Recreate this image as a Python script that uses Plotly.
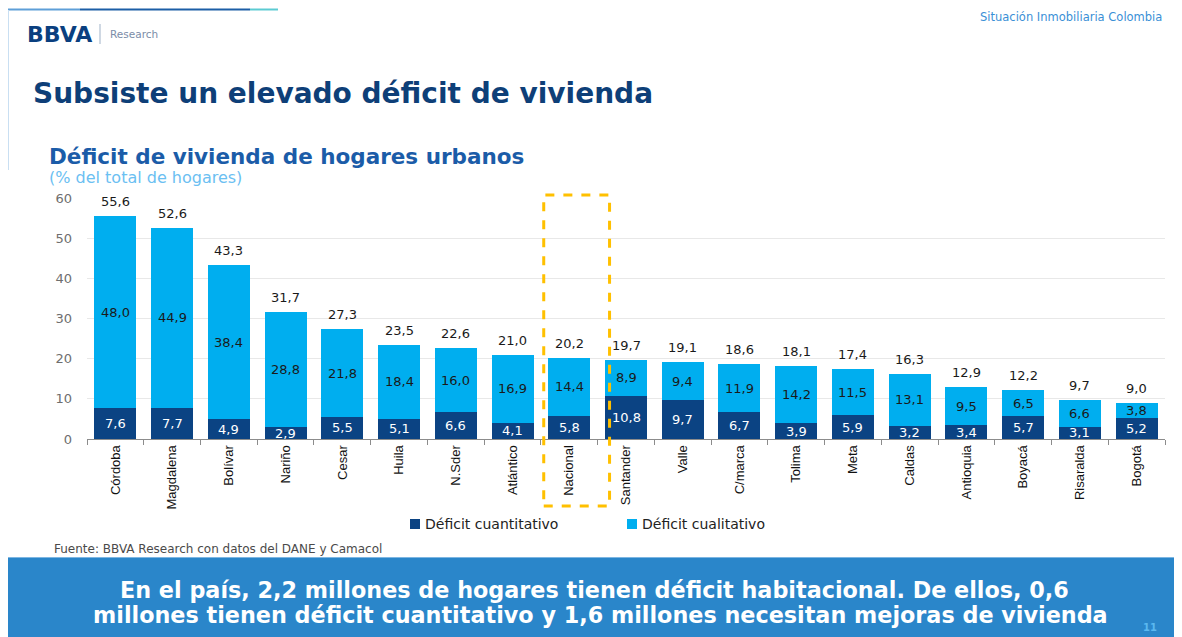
import plotly.graph_objects as go

categories = ["Córdoba", "Magdalena", "Bolívar", "Nariño", "Cesar", "Huila", "N.Sder",
              "Atlántico", "Nacional", "Santander", "Valle", "C/marca", "Tolima", "Meta",
              "Caldas", "Antioquia", "Boyacá", "Risaralda", "Bogotá"]
deficit_cuantitativo = [7.6, 7.7, 4.9, 2.9, 5.5, 5.1, 6.6, 4.1, 5.8, 10.8, 9.7, 6.7, 3.9,
                        5.9, 3.2, 3.4, 5.7, 3.1, 5.2]
deficit_cualitativo = [48.0, 44.9, 38.4, 28.8, 21.8, 18.4, 16.0, 16.9, 14.4, 8.9, 9.4, 11.9,
                       14.2, 11.5, 13.1, 9.5, 6.5, 6.6, 3.8]
totales = [55.6, 52.6, 43.3, 31.7, 27.3, 23.5, 22.6, 21.0, 20.2, 19.7, 19.1, 18.6, 18.1,
           17.4, 16.3, 12.9, 12.2, 9.7, 9.0]
series_names = ["Déficit cuantitativo", "Déficit cualitativo"]
y_ticks = [0, 10, 20, 30, 40, 50, 60]

# The page body has an 8px margin: figure spans screen x 8..1182, y 8..637
OFF = 8
W, H = 1182 - OFF, 637 - OFF
L, R, T, B = 87 - OFF, 17, 198 - OFF, 637 - 439
PW, PH = W - L - R, H - T - B

DARK = "#0B4383"
LIGHT = "#00AEEF"
FONT = "Liberation Sans, Arial, sans-serif"
WIDE = "DejaVu Sans, Verdana, sans-serif"


def px(x):
    # screen pixel x -> paper
    return (x - 87) / PW


def py(y):
    # screen pixel y -> paper
    return (439 - y) / PH


def fmt(v):
    return f"{v:.1f}".replace(".", ",")


fig = go.Figure()
fig.add_trace(go.Bar(x=categories, y=deficit_cuantitativo, name=series_names[0],
                     marker=dict(color=DARK, line=dict(width=0)), showlegend=False))
fig.add_trace(go.Bar(x=categories, y=deficit_cualitativo, name=series_names[1],
                     marker=dict(color=LIGHT, line=dict(width=0)), showlegend=False))

ann = []
for c, a, b, t in zip(categories, deficit_cuantitativo, deficit_cualitativo, totales):
    ann.append(dict(x=c, y=a / 2, text=fmt(a), showarrow=False, xref="x", yref="y",
                    font=dict(family=WIDE, size=13, color="white")))
    ann.append(dict(x=c, y=a + b / 2, text=fmt(b), showarrow=False, xref="x", yref="y",
                    font=dict(family=WIDE, size=13, color="#1a1a1a")))
    ann.append(dict(x=c, y=t, text=fmt(t), showarrow=False, xref="x", yref="y",
                    yanchor="bottom", yshift=5,
                    font=dict(family=WIDE, size=13, color="#1a1a1a")))


def txt(x, y, text, size, color, family=WIDE, xanchor="left"):
    return dict(x=px(x), y=py(y), xref="paper", yref="paper", xanchor=xanchor,
                yanchor="middle", text=text, showarrow=False,
                font=dict(family=family, size=size, color=color))


ann += [
    txt(25, 34, "<b>BBVA</b>", 22, "#0A3F7F"),
    txt(108, 34, "Research", 10.5, "#7B8DA8"),
    txt(1164, 17, "Situación Inmobiliaria Colombia", 11.5, "#3A8FD6", xanchor="right"),
    txt(31, 93, "<b>Subsiste un elevado déficit de vivienda</b>", 28, "#0E3F78"),
    txt(47, 156, "<b>Déficit de vivienda de hogares urbanos</b>", 21.5, "#1B5CA8"),
    txt(47, 177.5, "(% del total de hogares)", 16, "#6BC0F2"),
    txt(423, 524, series_names[0], 14, "#222"),
    txt(640, 524, series_names[1], 14, "#222"),
    txt(52, 549, "Fuente: BBVA Research con datos del DANE y Camacol", 12, "#4a4a4a"),
    txt(594, 590, "<b>En el país, 2,2 millones de hogares tienen déficit habitacional. De ellos, 0,6</b>",
        22.3, "white", xanchor="center"),
    txt(600, 615, "<b>millones tienen déficit cuantitativo y 1,6 millones necesitan mejoras de vivienda</b>",
        22.3, "white", xanchor="center"),
    txt(1150, 627, "<b>11</b>", 10, "#5BB8F0", xanchor="center"),
]

shapes = [
    # top decorative line
    dict(type="line", xref="paper", yref="paper", x0=px(8), x1=px(80), y0=py(9.5), y1=py(9.5),
         line=dict(color="#5E9FD8", width=2)),
    dict(type="line", xref="paper", yref="paper", x0=px(80), x1=px(250), y0=py(9.5), y1=py(9.5),
         line=dict(color="#1C5EA6", width=2)),
    dict(type="line", xref="paper", yref="paper", x0=px(250), x1=px(278), y0=py(9.5), y1=py(9.5),
         line=dict(color="#5CCBD2", width=2)),
    # left vertical line
    dict(type="line", xref="paper", yref="paper", x0=px(8.5), x1=px(8.5), y0=py(10), y1=py(170),
         line=dict(color="#C9DFF2", width=1)),
    # logo separator
    dict(type="line", xref="paper", yref="paper", x0=px(100), x1=px(100), y0=py(24), y1=py(44),
         line=dict(color="#9FB2C8", width=1)),
    # legend squares
    dict(type="rect", xref="paper", yref="paper", x0=px(410), x1=px(420), y0=py(519), y1=py(529),
         fillcolor=DARK, line=dict(width=0)),
    dict(type="rect", xref="paper", yref="paper", x0=px(627), x1=px(637), y0=py(519), y1=py(529),
         fillcolor=LIGHT, line=dict(width=0)),
    # bottom banner
    dict(type="rect", xref="paper", yref="paper", x0=px(8), x1=px(1190), y0=py(557), y1=py(645),
         fillcolor="#2A86CA", line=dict(width=0), layer="below"),
    dict(type="line", xref="paper", yref="paper", x0=px(8), x1=px(1190), y0=py(557.5), y1=py(557.5),
         line=dict(color="#7DB6E2", width=1)),
    # dashed highlight box around Nacional
    dict(type="rect", xref="x", yref="paper", x0=7.55, x1=8.71, y0=py(506), y1=py(195),
         line=dict(color="#FFC000", width=3, dash="dash"), fillcolor="rgba(0,0,0,0)"),
]

fig.update_layout(
    barmode="stack",
    bargap=0.26,
    width=W, height=H,
    margin=dict(l=L, r=R, t=T, b=B),
    paper_bgcolor="white",
    plot_bgcolor="white",
    font=dict(family=FONT),
    annotations=ann,
    shapes=shapes,
    showlegend=False,
    xaxis=dict(
        type="category", tickangle=-90, tickfont=dict(family=FONT, size=13, color="#111"),
        showline=True, linecolor="#8C8C8C", linewidth=1,
        ticks="outside", tickson="boundaries", ticklen=5, tickcolor="#8C8C8C",
        showgrid=False, fixedrange=True,
    ),
    yaxis=dict(
        range=[0, 60], tickvals=y_ticks, ticktext=[str(v) for v in y_ticks],
        tickfont=dict(family=WIDE, size=13, color="#6E6E6E"),
        showgrid=True, gridcolor="#E8E8E8", gridwidth=1,
        zeroline=False, showline=False, ticks="", ticklabelstandoff=14,
    ),
)

fig.write_html("out.html")
